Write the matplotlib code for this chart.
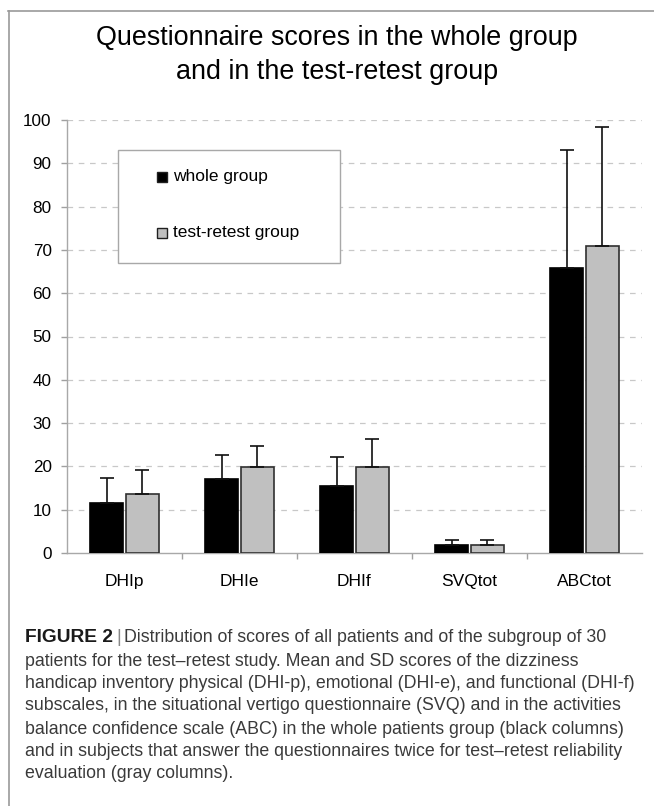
import matplotlib
matplotlib.use("Agg")
import matplotlib.pyplot as plt
from matplotlib.lines import Line2D
from matplotlib.patches import Rectangle
import numpy as np

plt.rcParams['font.family'] = ['Liberation Sans', 'DejaVu Sans']

# ---- data ----
categories = ["DHIp", "DHIe", "DHIf", "SVQtot", "ABCtot"]
series_names = ["whole group", "test-retest group"]
whole_mean = [11.6, 17.2, 15.5, 1.75, 65.8]
whole_sd = [5.8, 5.5, 6.7, 1.15, 27.3]
retest_mean = [13.55, 19.8, 19.8, 1.75, 71.0]
retest_sd = [5.6, 4.9, 6.6, 1.15, 27.4]
y_ticks = [0, 10, 20, 30, 40, 50, 60, 70, 80, 90, 100]
title_lines = ["Questionnaire scores in the whole group",
               "and in the test-retest group"]
caption_head = "FIGURE 2"
caption_lines = [
    "Distribution of scores of all patients and of the subgroup of 30",
    "patients for the test\u2013retest study. Mean and SD scores of the dizziness",
    "handicap inventory physical (DHI-p), emotional (DHI-e), and functional (DHI-f)",
    "subscales, in the situational vertigo questionnaire (SVQ) and in the activities",
    "balance confidence scale (ABC) in the whole patients group (black columns)",
    "and in subjects that answer the questionnaires twice for test\u2013retest reliability",
    "evaluation (gray columns).",
]

W, H = 654, 806
DPI = 100
fig = plt.figure(figsize=(W / DPI, H / DPI), dpi=DPI)
fig.patch.set_facecolor("white")

def fx(px):
    return px / W

def fy(py):
    return 1 - py / H

# frame lines around chart
fig.add_artist(Line2D([fx(8), 1.0], [fy(11), fy(11)], color="#9a9a9a", lw=1.2))
fig.add_artist(Line2D([fx(9), fx(9)], [fy(11), 0.0], color="#9a9a9a", lw=1.2))

ax = fig.add_axes([fx(67), fy(553), fx(642) - fx(67), fy(120) - fy(553)])

x = np.arange(len(categories))
bw = 0.29
off = 0.155
colors = ["#000000", "#c0c0c0"]
edges = ["#000000", "#303030"]
means = [whole_mean, retest_mean]
sds = [whole_sd, retest_sd]
for i, (m, s) in enumerate(zip(means, sds)):
    pos = x + (-off if i == 0 else off)
    ax.bar(pos, m, width=bw, color=colors[i], edgecolor=edges[i], linewidth=1.2, zorder=3)
    ax.errorbar(pos, m, yerr=[np.zeros(len(m)), s], fmt="none", ecolor="#111111",
                elinewidth=1.2, capsize=5, capthick=1.2, zorder=4)

ax.set_xlim(-0.5, len(categories) - 0.5)
ax.set_ylim(0, 100)
ax.set_yticks(y_ticks)
ax.set_yticklabels([str(t) for t in y_ticks], fontsize=12.3)
ax.set_xticks(x)
ax.set_xticklabels(categories, fontsize=12.5)
ax.set_xticks(np.arange(0.5, len(categories) - 0.5, 1.0), minor=True)
ax.tick_params(axis="x", which="major", length=0, pad=15)
ax.tick_params(axis="x", which="minor", length=4, color="#a0a0a0", width=1)
ax.tick_params(axis="y", length=4, color="#a0a0a0", width=1, pad=7)

for t in y_ticks[1:]:
    ax.axhline(t, color="#c8c8c8", lw=0.9, dashes=(4.5, 4.5), zorder=1)

for sp in ["top", "right"]:
    ax.spines[sp].set_visible(False)
for sp in ["left", "bottom"]:
    ax.spines[sp].set_color("#a8a8a8")
    ax.spines[sp].set_linewidth(1.0)

# legend box (manual, matching reference layout)
fig.add_artist(Rectangle((fx(118), fy(263)), fx(340) - fx(118), fy(150) - fy(263),
                         facecolor="white", edgecolor="#a8a8a8", lw=1.0, zorder=5))
for i, name in enumerate(series_names):
    cy = [177, 233][i]
    fig.add_artist(Rectangle((fx(157), fy(cy + 5)), fx(10), fy(cy - 5) - fy(cy + 5),
                             facecolor=colors[i], edgecolor="#202020", lw=1.0, zorder=6))
    fig.text(fx(173), fy(cy), name, fontsize=12.5, va="center", ha="left", zorder=7)

# title
fig.text(fx(337), fy(38), title_lines[0], fontsize=19.4, ha="center", va="center")
fig.text(fx(337), fy(72), title_lines[1], fontsize=19.4, ha="center", va="center")

# caption
cap_y = [638, 661, 684, 706, 729, 751, 774]
cap_fs = 12.8
cap_color = "#3a3a3a"
fig.canvas.draw()
r = fig.canvas.get_renderer()
head = fig.text(fx(25), fy(cap_y[0]), caption_head, fontsize=13.8, fontweight="bold",
                color="#1a1a1a", va="center", ha="left")
bb = head.get_window_extent(renderer=r)
xpos = bb.x1 / W
bar = fig.text(xpos + fx(3), fy(cap_y[0]), "|", fontsize=cap_fs, color="#888888",
               va="center", ha="left")
bb2 = bar.get_window_extent(renderer=r)
fig.text(bb2.x1 / W + fx(3), fy(cap_y[0]), caption_lines[0], fontsize=cap_fs,
         color=cap_color, va="center", ha="left")
for line, yy in zip(caption_lines[1:], cap_y[1:]):
    fig.text(fx(25), fy(yy), line, fontsize=cap_fs, color=cap_color, va="center", ha="left")

fig.savefig("out.png", dpi=DPI, facecolor="white")
